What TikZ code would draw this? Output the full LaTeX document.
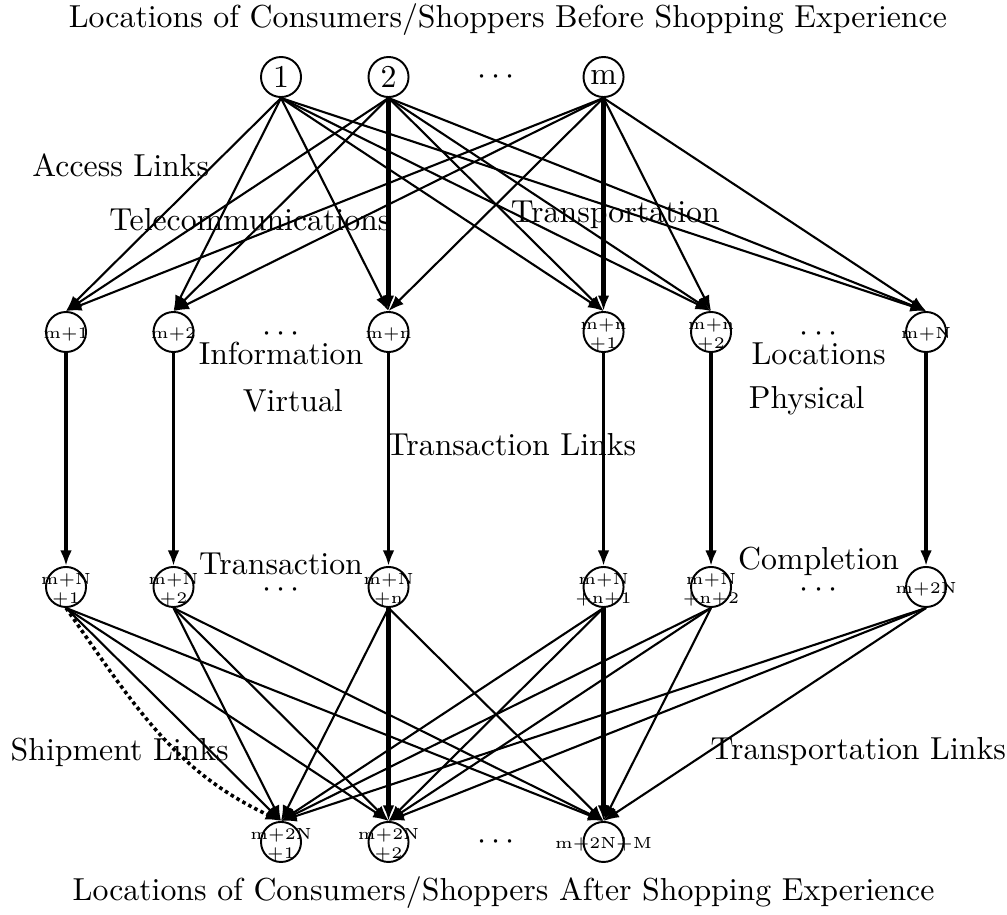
\documentclass[tikz,border=0pt]{standalone}
\usepackage{tikz}
\usetikzlibrary{arrows.meta}
\newcommand{\nlab}[1]{\smash{\makebox[0pt]{\raisebox{-2.2pt}{\tiny\begin{tabular}{@{}c@{}}#1\end{tabular}}}}}

\begin{document}
\begin{tikzpicture}[
    x=1.17cm, y=2.775cm,
    every node/.style={font=\fontsize{9.85pt}{12pt}\selectfont},
    site/.style={draw, circle, line width=0.6pt, inner sep=0pt, minimum size=12.4pt},
    link/.style={-{Latex[length=4.8pt,width=3.6pt]}, line width=0.65pt},
    vlink/.style={link, line width=1pt},
    heavy/.style={link, line width=1.4pt},
    ship/.style={link, line width=1.1pt, densely dotted}
  ]
    \useasboundingbox (-0.614,0.302) rectangle (8.753,-3.286);

    % origins
    \node[site] (src1) at (2,0) {1};
    \node[site] (src2) at (3,0) {2};
    \node (srcdots) at (4,0) {$\cdots$};
    \node[site] (srcm) at (5,0) {m};

    % virtual and physical locations
    \node[site] (loc1) at (0,-1) {\nlab{m+1}};
    \node[site] (loc2) at (1,-1) {\nlab{m+2}};
    \node (locdotsa) at (2,-1.01) {$\cdots$};
    \node[site] (locn) at (3,-1) {\nlab{m+n}};
    \node[site] (locn1) at (5,-1) {\nlab{m+n\\+1}};
    \node[site] (locn2) at (6,-1) {\nlab{m+n\\+2}};
    \node (locdotsb) at (7,-1.01) {$\cdots$};
    \node[site] (locN) at (8,-1) {\nlab{m+N}};

    % transaction completion
    \node[site] (done1) at (0,-2) {\nlab{m+N\\+1}};
    \node[site] (done2) at (1,-2) {\nlab{m+N\\+2}};
    \node (donedotsa) at (2,-2.015) {$\cdots$};
    \node[site] (donen) at (3,-2) {\nlab{m+N\\+n}};
    \node[site] (donen1) at (5,-2) {\nlab{m+N\\+n+1}};
    \node[site] (donen2) at (6,-2) {\nlab{m+N\\+n+2}};
    \node (donedotsb) at (7,-2.015) {$\cdots$};
    \node[site] (doneN) at (8,-2) {\nlab{m+2N}};

    % destinations
    \node[site] (dst1) at (2,-3) {\nlab{m+2N\\+1}};
    \node[site] (dst2) at (3,-3) {\nlab{m+2N\\+2}};
    \node (dstdots) at (4,-3) {$\cdots$};
    \node[site] (dstM) at (5,-3) {\nlab{m+2N+M}};

    % labels
    \node (title) at (4.11,0.224) {Locations of Consumers/Shoppers Before Shopping Experience};
    \node (foot) at (4.07,-3.2) {Locations of Consumers/Shoppers After Shopping Experience};
    \node (access) at (0.51,-0.345) {Access Links};
    \node (telecom) at (1.71,-0.561) {Telecommunications};
    \node (transport) at (5.11,-0.541) {Transportation};
    \node (info) at (2.0,-1.086) {Information};
    \node (virtual) at (2.11,-1.271) {Virtual};
    \node (locs) at (7.0,-1.086) {Locations};
    \node (physical) at (6.89,-1.271) {Physical};
    \node (translinks) at (4.14,-1.443) {Transaction Links};
    \node (transact) at (2.0,-1.91) {Transaction};
    \node (completion) at (7.0,-1.9) {Completion};
    \node (shiplinks) at (0.5,-2.647) {Shipment Links};
    \node (tplinks) at (7.37,-2.647) {Transportation Links};

    % access links
    \draw[link] (src1.south) -- (loc1.north);
    \draw[link] (src1.south) -- (loc2.north);
    \draw[link] (src1.south) -- (locn.north);
    \draw[link] (src1.south) -- (locn1.north);
    \draw[link] (src1.south) -- (locn2.north);
    \draw[link] (src1.south) -- (locN.north);
    \draw[link] (src2.south) -- (loc1.north);
    \draw[link] (src2.south) -- (loc2.north);
    \draw[heavy] (src2.south) -- (locn.north);
    \draw[link] (src2.south) -- (locn1.north);
    \draw[link] (src2.south) -- (locn2.north);
    \draw[link] (src2.south) -- (locN.north);
    \draw[link] (srcm.south) -- (loc1.north);
    \draw[link] (srcm.south) -- (loc2.north);
    \draw[link] (srcm.south) -- (locn.north);
    \draw[heavy] (srcm.south) -- (locn1.north);
    \draw[link] (srcm.south) -- (locn2.north);
    \draw[link] (srcm.south) -- (locN.north);

    % transaction links
    \draw[vlink] (loc1) -- (done1);
    \draw[vlink] (loc2) -- (done2);
    \draw[vlink] (locn) -- (donen);
    \draw[vlink] (locn1) -- (donen1);
    \draw[vlink] (locn2) -- (donen2);
    \draw[vlink] (locN) -- (doneN);

    % shipment and transportation links
    \draw[ship] (done1.south) to[out=-55, in=155] (dst1.north);
    \draw[link] (done1.south) -- (dst1.north);
    \draw[link] (done1.south) -- (dst2.north);
    \draw[link] (done1.south) -- (dstM.north);
    \draw[link] (done2.south) -- (dst1.north);
    \draw[link] (done2.south) -- (dst2.north);
    \draw[link] (done2.south) -- (dstM.north);
    \draw[link] (donen.south) -- (dst1.north);
    \draw[heavy] (donen.south) -- (dst2.north);
    \draw[link] (donen.south) -- (dstM.north);
    \draw[link] (donen1.south) -- (dst1.north);
    \draw[link] (donen1.south) -- (dst2.north);
    \draw[heavy] (donen1.south) -- (dstM.north);
    \draw[link] (donen2.south) -- (dst1.north);
    \draw[link] (donen2.south) -- (dst2.north);
    \draw[link] (donen2.south) -- (dstM.north);
    \draw[link] (doneN.south) -- (dst1.north);
    \draw[link] (doneN.south) -- (dst2.north);
    \draw[link] (doneN.south) -- (dstM.north);
  \end{tikzpicture}
\end{document}
